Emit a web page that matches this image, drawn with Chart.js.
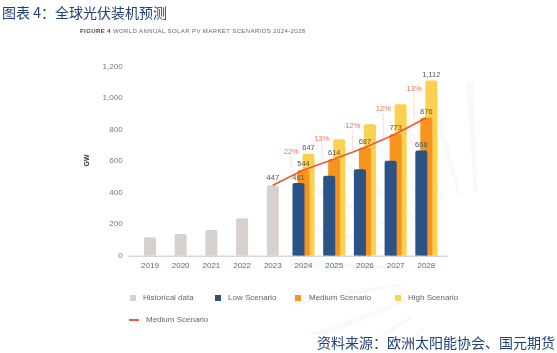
<!DOCTYPE html>
<html>
<head>
<meta charset="utf-8">
<script src="https://cdn.jsdelivr.net/npm/chart.js@4"></script>
<style>
  body { margin: 0; background: #fff; font-family: "Liberation Sans", Arial, sans-serif; }
  #wrap { position: relative; width: 557px; height: 353px; overflow: hidden; }
  #c { position: absolute; left: 0; top: 0; }
  .abs { position: absolute; white-space: nowrap; }
  .title { left: 2px; top: 2px; font: 14px "Noto Sans CJK SC", sans-serif; color: #233f78; }
  .sub { left: 80px; top: 28px; font-size: 6px; color: #666; letter-spacing: 0.4px; }
  .sub b { color: #444; }
  .src { left: 317px; top: 332px; font: 14px "Noto Sans CJK SC", sans-serif; color: #233f78; }
  .gw { left: 80px; top: 157px; font-size: 7px; font-weight: bold; color: #333; transform: rotate(-90deg); }
  .lg { font-size: 8px; color: #666; line-height: 10px; }
  .sq { width: 6px; height: 6px; }
</style>
</head>
<body>
<div id="wrap">
  <canvas id="c" width="557" height="353"></canvas>
  <div class="abs title">图表 4：全球光伏装机预测</div>
  <div class="abs sub"><b>FIGURE 4</b> WORLD ANNUAL SOLAR PV MARKET SCENARIOS 2024-2028</div>
  <div class="abs gw">GW</div>
  <div class="abs sq" style="left:130px;top:295px;background:#d7d1cd"></div>
  <div class="abs lg" style="left:143px;top:293px">Historical data</div>
  <div class="abs sq" style="left:215px;top:295px;background:#2b5386"></div>
  <div class="abs lg" style="left:228px;top:293px">Low Scenario</div>
  <div class="abs sq" style="left:295px;top:295px;background:#f7941e"></div>
  <div class="abs lg" style="left:309px;top:293px">Medium Scenario</div>
  <div class="abs sq" style="left:395px;top:295px;background:#fdd14f"></div>
  <div class="abs lg" style="left:408px;top:293px">High Scenario</div>
  <div class="abs" style="left:129px;top:319px;width:10px;height:1.5px;background:#f15a31"></div>
  <div class="abs lg" style="left:146px;top:315px">Medium Scenario</div>
  <div class="abs src">资料来源：欧洲太阳能协会、国元期货</div>
</div>
<script>
// data
const years = ['2019', '2020', '2021', '2022', '2023', '2024', '2025', '2026', '2027', '2028'];
const historical = [117, 138, 163, 237, 447, null, null, null, null, null];
const lowScenario = [null, null, null, null, null, 461, 508, 549, 603, 668];
const mediumScenario = [null, null, null, null, null, 544, 614, 687, 773, 876];
const highScenario = [null, null, null, null, null, 647, 739, 834, 961, 1112];
const mediumLine = [null, null, null, null, 447, 544, 614, 687, 773, 876];
const growth = [null, null, null, null, null, '22%', '13%', '12%', '12%', '13%'];
const yTicks = [0, 200, 400, 600, 800, 1000, 1200];

const fontFam = '"Liberation Sans", Arial, sans-serif';
const fmt = v => v.toLocaleString('en-US');

// faint sunburst behind the chart
const raysPlugin = {
  id: 'rays',
  beforeDraw(chart) {
    const ctx = chart.ctx;
    const cx = 480, cy = 272;
    ctx.save();
    ctx.beginPath();
    ctx.rect(60, 40, 423, 295);
    ctx.clip();
    ctx.fillStyle = 'rgba(232,235,240,0.3)';
    for (let i = 0; i < 30; i++) {
      const a = i * Math.PI * 2 / 30 + 0.05;
      const r1 = 80, r2 = 190;
      const ux = Math.cos(a), uy = Math.sin(a), px = -uy, py = ux;
      ctx.beginPath();
      ctx.moveTo(cx + ux * r1 + px * 1.5, cy + uy * r1 + py * 1.5);
      ctx.lineTo(cx + ux * r2 + px * 4, cy + uy * r2 + py * 4);
      ctx.lineTo(cx + ux * r2 - px * 4, cy + uy * r2 - py * 4);
      ctx.lineTo(cx + ux * r1 - px * 1.5, cy + uy * r1 - py * 1.5);
      ctx.closePath();
      ctx.fill();
    }
    ctx.restore();
  }
};

// baseline + value labels + growth labels
const labelsPlugin = {
  id: 'labels',
  beforeDatasetsDraw(chart) {
    const ctx = chart.ctx, a = chart.chartArea;
    ctx.save();
    ctx.strokeStyle = '#d3d8de';
    ctx.lineWidth = 1.5;
    ctx.beginPath();
    ctx.moveTo(a.left - 6, a.bottom + 0.5);
    ctx.lineTo(a.right + 6, a.bottom + 0.5);
    ctx.stroke();
    ctx.restore();
  },
  afterDatasetsDraw(chart) {
    const ctx = chart.ctx;
    ctx.save();
    ctx.font = '7.5px ' + fontFam;
    ctx.textAlign = 'center';
    ctx.textBaseline = 'middle';
    ctx.fillStyle = '#555';
    const lineMeta = chart.getDatasetMeta(0);
    const lowMeta = chart.getDatasetMeta(1);
    const medMeta = chart.getDatasetMeta(2);
    const highMeta = chart.getDatasetMeta(3);
    const histMeta = chart.getDatasetMeta(4);
    const last = years.length - 1;
    years.forEach((y, i) => {
      if (i === 4) {
        const b = histMeta.data[i];
        ctx.fillText(fmt(historical[i]), b.x, b.y - 7);
      }
      if (mediumScenario[i] != null) {
        const b = medMeta.data[i];
        ctx.fillText(fmt(mediumScenario[i]), b.x, b.y - 6);
      }
      if (i === 5 || i === last) {
        const bl = lowMeta.data[i], bh = highMeta.data[i];
        ctx.fillText(fmt(lowScenario[i]), bl.x, bl.y - 5.5);
        ctx.fillText(fmt(highScenario[i]), bh.x, bh.y - 6);
      }
    });
    // growth labels with dotted leaders down to the line
    ctx.fillStyle = '#f2704f';
    ctx.strokeStyle = '#f5a08b';
    ctx.lineWidth = 0.8;
    ctx.setLineDash([1, 1.5]);
    growth.forEach((g, i) => {
      if (!g) return;
      const p0 = lineMeta.data[i - 1], p1 = lineMeta.data[i];
      const t = 0.6;
      const x = p0.x + (p1.x - p0.x) * t;
      const yl = p0.y + (p1.y - p0.y) * t;
      const ly = (highMeta.data[i].y + medMeta.data[i].y) / 2 - 10;
      ctx.fillText(g, x, ly);
      ctx.beginPath();
      ctx.moveTo(x, ly + 5);
      ctx.lineTo(x, yl);
      ctx.stroke();
    });
    ctx.restore();
  }
};

const groupedBar = {
  grouped: true,
  categoryPercentage: 0.49,
  barPercentage: 2.4,
  borderRadius: 2,
  borderSkipped: 'bottom'
};

new Chart(document.getElementById('c'), {
  type: 'bar',
  data: {
    labels: years,
    datasets: [
      {
        type: 'line',
        label: 'Medium Scenario',
        data: mediumLine,
        borderColor: '#f15a31',
        borderWidth: 1.8,
        pointRadius: 0,
        order: 0
      },
      Object.assign({ label: 'Low Scenario', data: lowScenario, backgroundColor: '#2b5386', order: 1 }, groupedBar),
      Object.assign({ label: 'Medium Scenario', data: mediumScenario, backgroundColor: '#f7941e', order: 2 }, groupedBar),
      Object.assign({ label: 'High Scenario', data: highScenario, backgroundColor: '#fdd14f', order: 3 }, groupedBar),
      {
        label: 'Historical data',
        data: historical,
        backgroundColor: '#d7d1cd',
        grouped: false,
        categoryPercentage: 1,
        barPercentage: 0.39,
        borderRadius: 2,
        borderSkipped: 'bottom',
        order: 4
      }
    ]
  },
  options: {
    responsive: false,
    animation: false,
    events: [],
    layout: { padding: { left: 94.6, top: 66.7, right: 115.3, bottom: 77.3 } },
    plugins: { legend: { display: false }, tooltip: { enabled: false } },
    scales: {
      x: {
        grid: { display: false, drawTicks: false },
        border: { display: false },
        ticks: { color: '#666', padding: 5, font: { size: 8, family: fontFam } },
        afterFit(s) { s.height = 20; }
      },
      y: {
        min: 0,
        max: 1200,
        grid: { display: false, drawTicks: false },
        border: { display: false },
        afterBuildTicks(s) { s.ticks = yTicks.map(v => ({ value: v })); },
        ticks: {
          color: '#777',
          padding: 12,
          font: { size: 8, family: fontFam },
          callback: v => fmt(v)
        },
        afterFit(s) { s.width = 40; }
      }
    }
  },
  plugins: [raysPlugin, labelsPlugin]
});
</script>
</body>
</html>
